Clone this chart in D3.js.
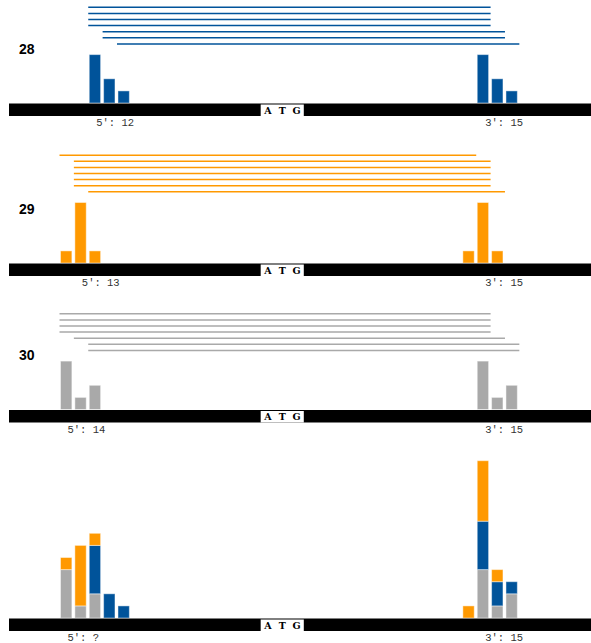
<!DOCTYPE html>
<html>
<head>
<meta charset="utf-8">
<script src="https://cdn.jsdelivr.net/npm/d3@7"></script>
<style>
  html, body { margin: 0; padding: 0; background: #fff; }
  svg { display: block; }
</style>
</head>
<body>
<svg id="chart" width="591" height="643"></svg>
<script>
// Read lengths shown in the three upper panels
const readLengths = [28, 29, 30];
const lengthColors = ["#00539a", "#ff9900", "#a9a9a9"];
// First 5' position (nt index) of each length's read cluster, and read counts per position
const fiveStarts = [2, 0, 0];
const fiveCounts = [[4, 2, 1], [1, 5, 1], [4, 1, 2]];
// Offset labels
const fiveOffsets = ["12", "13", "14", "?"];
const threeOffsets = ["15", "15", "15", "15"];
const fiveLabelPos = [2, 1, 0, 0];
const threeLabelPos = [29, 29, 29, 29];
// Start codon
const codon = ["A", "T", "G"];
const codonStart = 14;
// Stack order in the combined panel (bottom to top): 30, 28, 29
const stackOrder = [30, 28, 29];

const svg = d3.select("#chart");
const W = 591;

// nucleotide position -> pixel
const x = d3.scaleLinear().domain([0, 1]).range([59.5, 59.5 + 14.37]);
const step = x(1) - x(0);
// read count -> bar height
const h = d3.scaleLinear().domain([0, 1]).range([0, 12.1]);

const baselines = [103, 263, 409.5, 618];
const lineGap = 6.1;

// per-length expanded 5' and 3' counts
const perLength = readLengths.map((L, i) => {
  const five = fiveCounts[i].map((c, k) => ({ pos: fiveStarts[i] + k, count: c }));
  const three = five.map(d => ({ pos: d.pos + L - 1, count: d.count }));
  return { L, color: lengthColors[i], five, three };
});

function drawTrack(g, base, pi) {
  g.append("rect")
    .attr("x", 9).attr("y", base + 0.5)
    .attr("width", W - 9).attr("height", 12.5)
    .attr("fill", "#000");
  g.append("rect")
    .attr("x", x(codonStart)).attr("y", base + 1.5)
    .attr("width", x(codonStart + codon.length) - x(codonStart)).attr("height", 11.5)
    .attr("fill", "#fff");
  g.selectAll("text.codon").data(codon).join("text")
    .attr("class", "codon")
    .attr("x", (d, i) => x(codonStart + i) + step / 2)
    .attr("y", base + 10.8)
    .attr("text-anchor", "middle")
    .attr("font-family", "'DejaVu Serif', serif")
    .attr("font-weight", "bold")
    .attr("font-size", 9.5)
    .attr("fill", "#000")
    .text(d => d);
  g.append("text")
    .attr("x", x(fiveLabelPos[pi]) + 8).attr("y", base + 23)
    .attr("font-family", "'Liberation Mono', monospace")
    .attr("font-size", 10.5).attr("fill", "#333")
    .text("5\u2032: " + fiveOffsets[pi]);
  g.append("text")
    .attr("x", x(threeLabelPos[pi]) + 9).attr("y", base + 23)
    .attr("font-family", "'Liberation Mono', monospace")
    .attr("font-size", 10.5).attr("fill", "#333")
    .text("3\u2032: " + threeOffsets[pi]);
}

function barAttrs(sel) {
  return sel
    .attr("stroke", "#fff").attr("stroke-opacity", 0.45).attr("stroke-width", 1);
}

// Panels for each read length
perLength.forEach((p, pi) => {
  const base = baselines[pi];
  const g = svg.append("g");
  const maxC = d3.max(p.five, d => d.count);
  const barTop = base - h(maxC);

  // one line per read, ordered by 5' position
  const reads = [];
  p.five.forEach(d => { for (let k = 0; k < d.count; k++) reads.push(d.pos); });
  const lastY = barTop - 10.7;
  const firstY = lastY - (reads.length - 1) * lineGap;
  g.selectAll("line.read").data(reads).join("line")
    .attr("class", "read")
    .attr("x1", d => x(d)).attr("x2", d => x(d + p.L))
    .attr("y1", (d, i) => firstY + i * lineGap)
    .attr("y2", (d, i) => firstY + i * lineGap)
    .attr("stroke", p.color).attr("stroke-width", 1.5);

  g.append("text")
    .attr("x", 19).attr("y", base - 49.5)
    .attr("font-family", "'Liberation Sans', Arial, sans-serif")
    .attr("font-weight", "bold").attr("font-size", 14)
    .attr("fill", "#000")
    .text(p.L);

  [p.five, p.three].forEach(arr => {
    g.selectAll(null).data(arr).join("rect")
      .attr("x", d => x(d.pos) + 1)
      .attr("width", step - 3)
      .attr("y", d => base - h(d.count))
      .attr("height", d => h(d.count))
      .attr("fill", p.color)
      .call(barAttrs);
  });

  drawTrack(g, base, pi);
});

// Combined panel: stacked counts at every 5' and 3' position
(function () {
  const base = baselines[3];
  const g = svg.append("g");
  const keys = stackOrder.map(String);
  const byLen = {};
  perLength.forEach(p => { byLen[p.L] = p; });

  function table(side) {
    const positions = Array.from(new Set(perLength.flatMap(p => p[side].map(d => d.pos)))).sort((a, b) => a - b);
    return positions.map(pos => {
      const row = { pos };
      keys.forEach(k => {
        const f = byLen[k][side].find(d => d.pos === pos);
        row[k] = f ? f.count : 0;
      });
      return row;
    });
  }
  const stack = d3.stack().keys(keys);
  const color = d3.scaleOrdinal().domain(readLengths.map(String)).range(lengthColors);

  ["five", "three"].forEach(side => {
    const series = stack(table(side));
    series.forEach(s => {
      g.selectAll(null).data(s.filter(d => d[1] > d[0])).join("rect")
        .attr("x", d => x(d.data.pos) + 1)
        .attr("width", step - 3)
        .attr("y", d => base - h(d[1]))
        .attr("height", d => h(d[1]) - h(d[0]))
        .attr("fill", color(s.key))
        .call(barAttrs);
    });
  });

  drawTrack(g, base, 3);
})();
</script>
</body>
</html>
